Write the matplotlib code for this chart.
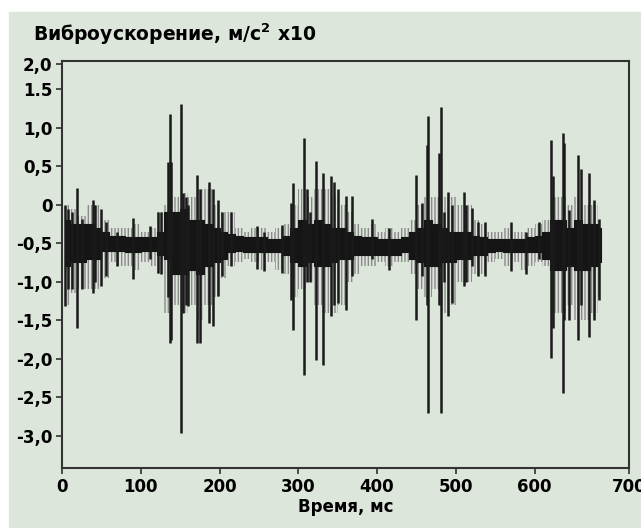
import matplotlib
matplotlib.use("Agg")
import matplotlib.pyplot as plt
from matplotlib.patches import Rectangle

plt.rcParams['font.family'] = ['DejaVu Sans']
plt.rcParams['hatch.linewidth'] = 1.0

# время, мс (шаг 10 мс) и огибающие сигнала, м/с2 x10
t_env = [5, 15, 25, 35, 45, 55, 65, 75, 85, 95, 105, 115, 125, 135, 145, 155,
         165, 175, 185, 195, 205, 215, 225, 235, 245, 255, 265, 275, 285, 295,
         305, 315, 325, 335, 345, 355, 365, 375, 385, 395, 405, 415, 425, 435,
         445, 455, 465, 475, 485, 495, 505, 515, 525, 535, 545, 555, 565, 575,
         585, 595, 605, 615, 625, 635, 645, 655, 665, 675, 685]
core_hi = [-0.2, -0.25, -0.25, -0.25, -0.3, -0.35, -0.4, -0.4, -0.42, -0.42,
           -0.42, -0.42, -0.35, -0.1, -0.1, -0.05, -0.2, -0.2, -0.25, -0.3,
           -0.35, -0.38, -0.4, -0.42, -0.42, -0.42, -0.45, -0.45, -0.4, -0.3,
           -0.2, -0.25, -0.2, -0.25, -0.3, -0.3, -0.35, -0.4, -0.42, -0.42,
           -0.45, -0.45, -0.45, -0.42, -0.35, -0.3, -0.2, -0.25, -0.3, -0.35,
           -0.35, -0.35, -0.4, -0.42, -0.45, -0.45, -0.45, -0.45, -0.45, -0.42,
           -0.4, -0.35, -0.2, -0.2, -0.3, -0.2, -0.25, -0.25, -0.3]
core_lo = [-0.8, -0.75, -0.75, -0.7, -0.7, -0.6, -0.6, -0.6, -0.62, -0.62,
           -0.6, -0.6, -0.65, -0.7, -0.9, -0.9, -0.85, -0.9, -0.8, -0.75,
           -0.7, -0.62, -0.6, -0.62, -0.62, -0.62, -0.62, -0.62, -0.65, -0.75,
           -0.8, -0.75, -0.8, -0.8, -0.75, -0.7, -0.7, -0.65, -0.65, -0.65,
           -0.65, -0.65, -0.65, -0.62, -0.7, -0.75, -0.8, -0.8, -0.75, -0.75,
           -0.7, -0.7, -0.65, -0.65, -0.62, -0.6, -0.62, -0.62, -0.62, -0.62,
           -0.62, -0.7, -0.85, -0.85, -0.8, -0.85, -0.85, -0.8, -0.75]
outer_hi = [0.0, -0.05, -0.15, 0.0, 0.0, -0.2, -0.3, -0.3, -0.3, -0.25,
            -0.35, -0.3, -0.1, 0.0, 0.1, 0.15, 0.1, 0.2, 0.2, 0.0,
            -0.1, -0.1, -0.3, -0.35, -0.3, -0.3, -0.35, -0.3, -0.25, 0.0,
            0.2, 0.1, 0.2, 0.2, 0.1, 0.0, -0.1, -0.25, -0.3, -0.25,
            -0.35, -0.3, -0.35, -0.3, -0.2, 0.0, 0.1, 0.1, 0.1, 0.1,
            0.0, 0.0, -0.2, -0.25, -0.35, -0.35, -0.3, -0.35, -0.35, -0.3,
            -0.25, -0.2, 0.1, 0.1, 0.0, 0.1, 0.0, 0.0, -0.2]
outer_lo = [-1.3, -1.15, -1.1, -1.1, -1.1, -0.95, -0.75, -0.8, -0.8, -0.85,
            -0.75, -0.8, -0.9, -1.4, -1.3, -1.4, -1.3, -1.5, -1.3, -1.2,
            -0.95, -0.8, -0.75, -0.7, -0.75, -0.85, -0.75, -0.85, -0.9, -1.2,
            -1.1, -1.0, -1.3, -1.4, -1.4, -1.3, -1.0, -0.9, -0.8, -0.8,
            -0.75, -0.8, -0.75, -0.75, -0.9, -1.1, -1.2, -1.1, -1.4, -1.3,
            -1.0, -1.0, -0.9, -0.9, -0.75, -0.7, -0.8, -0.75, -0.85, -0.8,
            -0.75, -0.8, -1.4, -1.4, -1.3, -1.5, -1.5, -1.4, -1.2]

# отдельные пики: время, минимум, максимум
spike_t = [4, 8, 13, 19.5, 25, 39, 42, 50, 56, 70, 90, 112, 122, 126, 135,
           137.4, 139, 151.4, 154, 157, 160, 171, 175.6, 187, 192, 198.5, 203,
           215, 248, 257, 279.5, 291, 293.5, 307, 311, 315.5, 322, 331.6, 342,
           345, 351, 360, 368, 394, 415, 450, 457, 464, 465, 479, 481, 485,
           490, 495, 510, 513, 520, 528, 537, 570, 589, 606, 621, 623, 636,
           638, 644, 655, 659, 669, 675.6, 682]
spike_lo = [-1.32, -1.1, -1.1, -1.6, -1.1, -1.14, -1.0, -1.05, -0.93, -0.8,
            -0.97, -0.7, -0.89, -0.9, -1.2, -1.79, -1.75, -2.96, -1.4, -1.3,
            -1.32, -1.79, -1.79, -1.54, -1.57, -1.19, -0.93, -0.8, -0.84,
            -0.86, -0.88, -1.23, -1.62, -2.21, -1.0, -1.0, -2.01, -2.08,
            -1.45, -1.3, -1.28, -1.36, -0.93, -0.7, -0.85, -1.49, -0.93, -1.3,
            -2.7, -1.3, -2.7, -1.0, -1.45, -1.28, -1.06, -1.0, -0.79, -0.93,
            -0.93, -0.86, -0.9, -0.7, -1.99, -1.6, -2.44, -1.5, -1.49, -1.75,
            -1.3, -1.71, -1.49, -1.23]
spike_hi = [0.0, -0.05, -0.1, 0.22, -0.19, 0.06, 0.0, -0.06, -0.23, -0.35,
            -0.17, -0.28, -0.1, -0.1, 0.55, 1.17, 0.55, 1.3, 0.15, 0.1,
            0.0, 0.39, 0.2, 0.3, 0.2, 0.06, -0.1, -0.1, -0.28, -0.35, -0.26,
            0.02, 0.28, 0.87, 0.2, -0.1, 0.56, 0.41, 0.37, 0.3, 0.2, 0.11,
            0.11, -0.19, -0.3, 0.39, 0.02, 0.78, 1.15, 0.67, 1.26, -0.1, 0.17,
            0.0, 0.17, 0.0, -0.04, -0.23, -0.23, -0.23, -0.35, -0.23, 0.84,
            0.37, 0.93, 0.8, -0.07, 0.65, 0.46, 0.41, 0.06, -0.19]

x_ticks = [0, 100, 200, 300, 400, 500, 600, 720]
x_labels = ['0', '100', '200', '300', '400', '500', '600', '700']
y_ticks = [1.82, 1.5, 1.0, 0.5, 0, -0.5, -1.0, -1.5, -2.0, -2.5, -3.0]
y_labels = ['2,0', '1.5', '1,0', '0,5', '0', '-0,5', '-1,0', '-1,5', '-2,0',
            '-2,5', '-3,0']

bg = '#dce6da'
fig = plt.figure(figsize=(6.41, 5.28), dpi=100, facecolor='white')
fig.add_artist(Rectangle((9 / 641, 0), 1, 1 - 12 / 528,
                         transform=fig.transFigure, color=bg, zorder=-10))
ax = fig.add_axes([62 / 641, 1 - 468 / 528, 567 / 641, 407 / 528])
ax.set_facecolor(bg)

# серая "шерсть" вокруг сигнала
ax.fill_between(t_env, outer_lo, outer_hi, facecolor='none',
                edgecolor='#8a8a8a', hatch='|||||', lw=0, step='mid')
# плотное ядро
ax.fill_between(t_env, core_lo, core_hi, facecolor='#151515',
                edgecolor='#151515', lw=0.8, step='mid')
ax.vlines(spike_t, spike_lo, spike_hi, color='#1a1a1a', lw=1.8)

ax.set_xlim(0, 720)
ax.set_ylim(-3.415, 1.863)
ax.set_xticks(x_ticks)
ax.set_xticklabels(x_labels)
ax.set_yticks(y_ticks)
ax.set_yticklabels(y_labels)
ax.tick_params(labelsize=12, width=1.2, length=4, color='#333333', pad=3)
for lab in ax.get_xticklabels() + ax.get_yticklabels():
    lab.set_fontweight('bold')
for s in ax.spines.values():
    s.set_linewidth(1.5)
    s.set_color('#333333')

ax.set_xlabel('Время, мс', fontsize=12, fontweight='bold', labelpad=2)
fig.text(33 / 641, 1 - 34 / 528, r'Виброускорение, м/с$^\mathbf{2}$ x10',
         fontsize=13.5, fontweight='bold', va='center', ha='left')

plt.savefig('out.png', dpi=100, facecolor='white')
